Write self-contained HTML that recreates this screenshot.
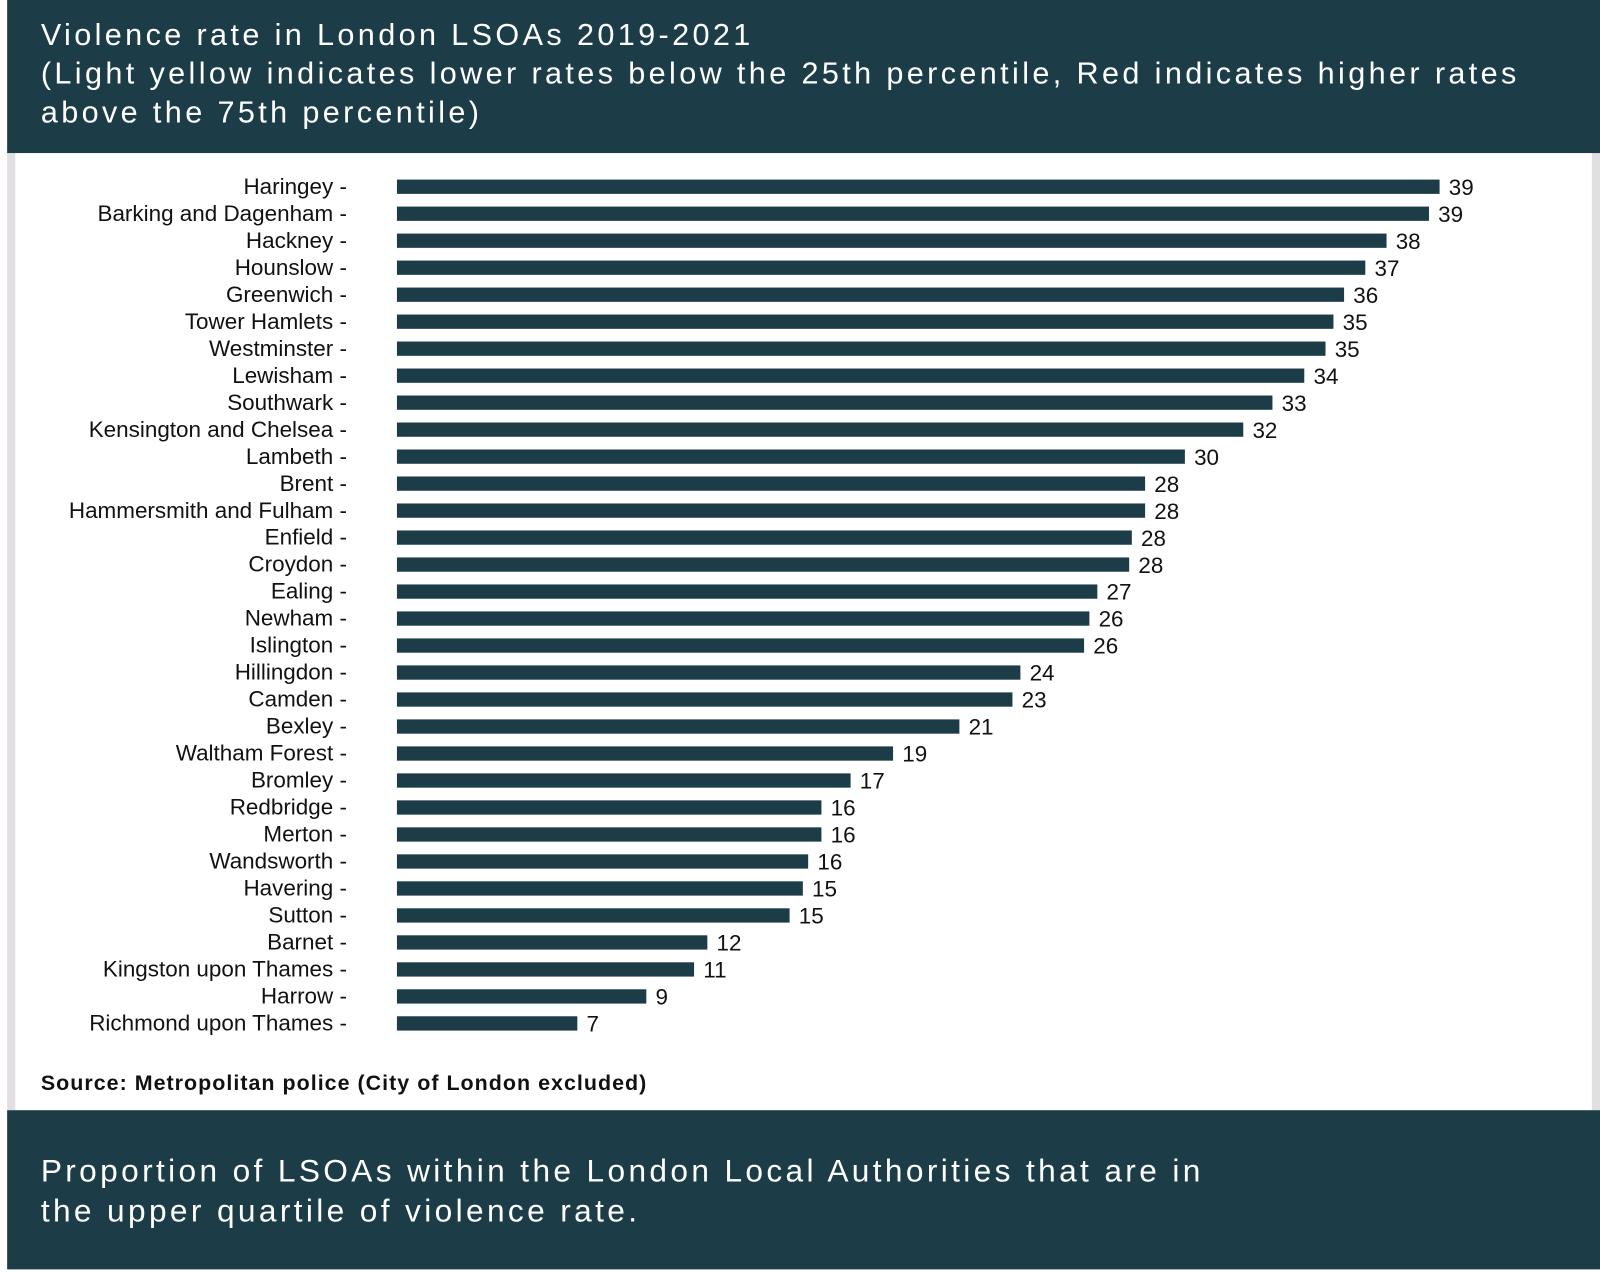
<!DOCTYPE html>
<html><head><meta charset="utf-8"><style>
html,body{margin:0;padding:0;width:1600px;height:1274px;overflow:hidden;background:#fff;font-family:"Liberation Sans",sans-serif;}
#wrap{position:absolute;left:0;top:0;width:1568px;height:1248px;transform:scale(1.020408);transform-origin:0 0;}
.band{position:absolute;background:#1c3d48;color:#fff;}
</style></head><body>
<div id="wrap">
<div style="position:absolute;left:7px;top:150px;width:8px;height:938px;background:#e2dfe2"></div>
<div style="position:absolute;left:1560px;top:150px;width:8px;height:938px;background:#e2dfe2"></div>
<div class="band" style="left:7px;top:0;width:1561px;height:150px;">
<div style="position:absolute;left:33px;top:16px;font-size:30px;letter-spacing:3.3px;line-height:38px;width:1540px;white-space:nowrap;">Violence rate in London LSOAs 2019-2021<br>(Light yellow indicates lower rates below the 25th percentile, Red indicates higher rates<br>above the 75th percentile)</div>
</div>
<svg id="chart" width="1568" height="1088" style="position:absolute;left:0;top:0;"></svg>
<div style="position:absolute;left:40px;top:1050px;font-size:21px;font-weight:bold;color:#111;letter-spacing:1px;">Source: Metropolitan police (City of London excluded)</div>
<div class="band" style="left:7px;top:1088px;width:1561px;height:156px;">
<div style="position:absolute;left:33px;top:40px;font-size:31px;letter-spacing:3.3px;line-height:39px;white-space:nowrap;">Proportion of LSOAs within the London Local Authorities that are in<br>the upper quartile of violence rate.</div>
</div>
</div>
<script>
const categories=["Haringey","Barking and Dagenham","Hackney","Hounslow","Greenwich","Tower Hamlets","Westminster","Lewisham","Southwark","Kensington and Chelsea","Lambeth","Brent","Hammersmith and Fulham","Enfield","Croydon","Ealing","Newham","Islington","Hillingdon","Camden","Bexley","Waltham Forest","Bromley","Redbridge","Merton","Wandsworth","Havering","Sutton","Barnet","Kingston upon Thames","Harrow","Richmond upon Thames"];
const values=[39.3,38.9,37.3,36.5,35.7,35.3,35.0,34.2,33.0,31.9,29.7,28.2,28.2,27.7,27.6,26.4,26.1,25.9,23.5,23.2,21.2,18.7,17.1,16.0,16.0,15.5,15.3,14.8,11.7,11.2,9.4,6.8];
const labels=["39","39","38","37","36","35","35","34","33","32","30","28","28","28","28","27","26","26","24","23","21","19","17","16","16","16","15","15","12","11","9","7"];
const NS="http://www.w3.org/2000/svg";
const svg=document.getElementById('chart');
const x0=389,pxPerUnit=26,y0=183,step=26.45,bh=14;
function xScale(v){return x0+v*pxPerUnit;}
function yScale(i){return y0+i*step;}
categories.forEach((c,i)=>{
  const y=yScale(i);
  const r=document.createElementNS(NS,'rect');
  r.setAttribute('x',x0);r.setAttribute('y',y-bh/2);
  r.setAttribute('width',xScale(values[i])-x0);r.setAttribute('height',bh);
  r.setAttribute('fill','#1c3d48');
  
  
  svg.appendChild(r);
  const t=document.createElementNS(NS,'text');
  t.setAttribute('x',340);t.setAttribute('y',y+7);
  t.setAttribute('text-anchor','end');t.setAttribute('font-size','22');
  t.setAttribute('font-family','Liberation Sans, sans-serif');t.setAttribute('fill','#111');
  t.textContent=c+' -';
  
  
  svg.appendChild(t);
  const v=document.createElementNS(NS,'text');
  v.setAttribute('x',xScale(values[i])+9);v.setAttribute('y',y+8);
  v.setAttribute('font-size','22');
  v.setAttribute('font-family','Liberation Sans, sans-serif');v.setAttribute('fill','#111');
  v.textContent=labels[i];
  
  
  svg.appendChild(v);
});
</script>
</body></html>
